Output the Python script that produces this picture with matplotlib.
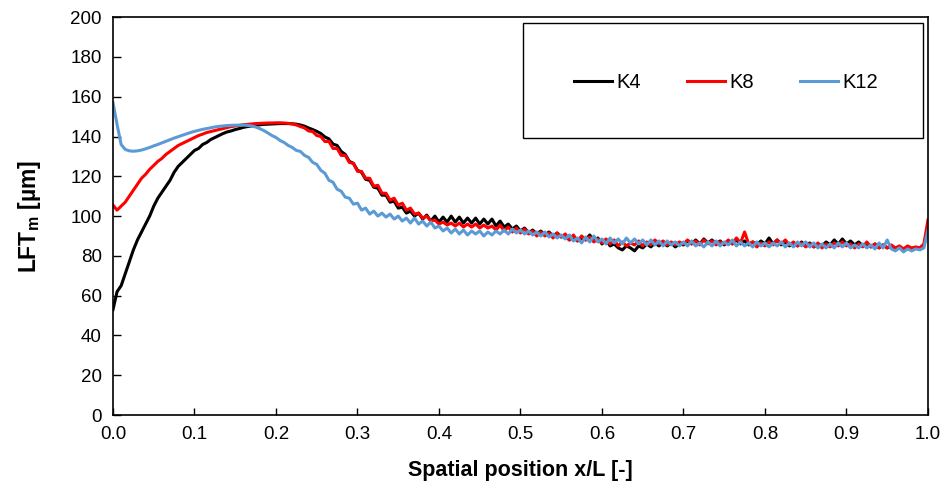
import numpy as np
import matplotlib
matplotlib.use('Agg')
import matplotlib.pyplot as plt
from matplotlib.patches import Rectangle

plt.rcParams['font.family'] = ['Liberation Sans', 'DejaVu Sans']
plt.rcParams['mathtext.fontset'] = 'custom'
plt.rcParams['mathtext.rm'] = 'Liberation Sans'

# Spatial positions x/L (sampled every 0.005)
x_pos = np.linspace(0.0, 1.0, 201)

# LFT_m [um]
k4 = [53, 62, 65, 71, 77, 83, 88, 92, 96, 100,
      105, 109, 112, 115, 118, 122, 125, 127, 129, 131,
      133, 134, 136, 137, 138.5, 139.5, 140.5, 141.5, 142.3, 142.8,
      143.5, 144, 144.6, 145, 145.3, 145.6, 145.9, 146.1, 146.2, 146.3,
      146.4, 146.5, 146.5, 146.5, 146.4, 146.2, 145.8, 145.2, 144.3, 143.5,
      142.6, 141.5, 139.8, 138.8, 136.2, 135.5, 132.5, 131, 127.5, 126.5,
      123, 122, 118.5, 118, 114.5, 114, 110.5, 110.5, 107, 107.5,
      104, 104.5, 101.5, 102.5, 100, 101.5, 98.5, 100.5, 97.5, 100,
      97, 99.5, 97, 100, 97, 99.5, 96.5, 99, 96.5, 99,
      96, 98.5, 96, 98.5, 95, 97.5, 94.5, 96, 93.5, 95,
      92.5, 94, 91.5, 93, 91, 92.5, 90.5, 92, 90, 91.5,
      89.5, 90, 88, 89.5, 87.5, 89, 88, 90.5, 87.5, 89,
      86, 88, 85, 86, 84, 83, 85, 84, 82.5, 85,
      84, 86, 84.5, 86.5, 85, 87, 85, 86.5, 84.5, 86,
      85.5, 87.5, 86, 88, 86, 88.5, 86.5, 88, 86, 87.5,
      85.5, 87.5, 86, 88, 86, 87.5, 85.5, 87, 85.5, 87.5,
      86, 89, 86, 88, 85.5, 87, 85, 86.5, 85, 87,
      85, 86.5, 84.5, 86, 85, 87, 85.5, 88, 86, 88.5,
      86, 87.5, 85.5, 87, 85, 86, 84.5, 86, 84, 85.5,
      84, 85, 83.5, 84.5, 82.5, 84, 83, 84, 83.5, 85,
      94]

k8 = [105.5, 103, 105, 107, 110, 113, 116, 119, 121, 123.5,
      125.5, 127.5, 129, 131, 132.5, 134, 135.5, 136.5, 137.5, 138.5,
      139.5, 140.5, 141.2, 142, 142.5, 143, 143.5, 144, 144.5, 145,
      145.3, 145.6, 145.9, 146.1, 146.3, 146.5, 146.6, 146.7, 146.8, 146.8,
      146.9, 146.9, 146.8, 146.6, 146.3, 145.8, 145, 144.3, 142.8, 142.5,
      140.5, 140, 137.5, 137.5, 134, 134, 130.5, 130.5, 127, 126.5,
      122.5, 122.5, 119, 119, 115, 115.5, 111.5, 111.5, 108, 109,
      105.5, 106.5, 103, 104, 101, 101.5, 99, 100, 97.5, 98,
      96, 97, 95.5, 96.5, 95, 96.5, 94.5, 96, 94.5, 96,
      94, 95.5, 94, 95, 93, 95.5, 92.5, 94.5, 92, 94,
      91.5, 93.5, 91, 92.5, 90, 92, 90, 91.5, 89, 91.5,
      89.5, 91, 88, 90.5, 87.5, 90, 88, 89.5, 87, 88.5,
      86.5, 88.5, 86, 88, 85, 87, 85, 86.5, 85.5, 87.5,
      85, 87, 85.5, 88, 86, 87.5, 85.5, 87, 85.5, 87,
      86, 88, 86, 87.5, 85.5, 88, 86, 87.5, 85.5, 87,
      86, 88, 86, 89, 86.5, 92, 86, 87, 84.5, 86.5,
      85, 87, 85.5, 88, 86, 88, 85.5, 87, 85, 86.5,
      84.5, 86, 84.5, 86.5, 84, 86, 84.5, 86.5, 85, 87,
      85, 86, 84, 86, 84.5, 87, 84.5, 86, 84, 85.5,
      84, 85.5, 84, 85, 83.5, 85, 84, 84.5, 84, 86,
      98]

k12 = [157, 146, 136, 133.5, 132.8, 132.6, 132.8, 133.2, 133.8, 134.5,
       135.3, 136, 136.8, 137.6, 138.4, 139.2, 139.9, 140.6, 141.3, 142,
       142.6, 143.1, 143.6, 144, 144.4, 144.8, 145.1, 145.3, 145.5, 145.6,
       145.7, 145.7, 145.7, 145.6, 145.3, 144.8, 144, 143, 141.8, 140.5,
       139.5, 138, 137, 135.5, 134.5, 133, 132.5, 130.5, 129.5, 127,
       126, 123, 121.5, 118, 117, 113.5, 112.5, 109.5, 109, 106,
       106.5, 103, 104, 101, 102.5, 100, 101.5, 99.5, 101, 98.5,
       100, 97.5, 99, 96.5, 99, 96, 97.5, 95, 97, 94,
       95, 92.5, 94, 91.5, 93.5, 91, 93, 90.5, 92.5, 91,
       92.5, 90, 92, 90.5, 92.5, 91, 93, 91, 93.5, 91.5,
       93, 91, 92.5, 90.5, 92, 90, 92, 89.5, 91, 89,
       90.5, 88.5, 90.5, 87.5, 89, 86.5, 89.5, 87, 90, 87,
       88.5, 86, 89, 86.5, 88.5, 86, 89, 86.5, 88.5, 86,
       88, 85.5, 88, 85.5, 87.5, 85, 87.5, 85.5, 87, 85,
       87, 85, 87.5, 85, 86.5, 84.5, 87, 85, 87.5, 85,
       87, 85.5, 88, 85, 87, 85, 86.5, 84.5, 87, 85,
       86.5, 84.5, 86.5, 85, 87, 84.5, 86.5, 84.5, 87, 85,
       87, 84.5, 86.5, 84, 86, 84, 86, 84, 86.5, 84.5,
       86.5, 84, 85.5, 84, 86, 84, 85.5, 83.5, 86.5, 84,
       88, 83.5, 82.5, 84, 82, 83.5, 82.5, 83.5, 83, 84,
       93]

fig = plt.figure(figsize=(9.44, 4.9), dpi=100)
ax = fig.add_axes([0.1197, 0.153, 0.8633, 0.812])

ax.plot(x_pos, k4, color='black', lw=2.2, label='K4')
ax.plot(x_pos, k8, color='#FF0000', lw=2.2, label='K8')
ax.plot(x_pos, k12, color='#5B9BD5', lw=2.2, label='K12')

ax.set_xlim(0, 1.0)
ax.set_ylim(0, 200)
ax.set_xticks(np.arange(0, 1.01, 0.1))
ax.set_xticklabels(['%.1f' % v for v in np.arange(0, 1.01, 0.1)])
ax.set_yticks(range(0, 201, 20))
ax.tick_params(axis='both', direction='in', labelsize=13.5, width=1, color='black')
ax.tick_params(axis='y', length=6, pad=8)
ax.tick_params(axis='x', length=5, pad=8)
for s in ax.spines.values():
    s.set_linewidth(1.2)

ax.set_xlabel('Spatial position x/L [-]', fontsize=15.5, fontweight='bold', labelpad=12)
ax.set_ylabel(r'LFT$_\mathregular{m}$ [µm]', fontsize=16.5, fontweight='bold', labelpad=20)

# legend box (Excel style, fixed size)
box = Rectangle((0.503, 0.696), 0.491, 0.289, transform=ax.transAxes,
                facecolor='white', edgecolor='black', lw=1.0, zorder=4)
ax.add_patch(box)
leg = ax.legend(loc='center', bbox_to_anchor=(0.752, 0.835), ncol=3, frameon=False,
                fontsize=14.5, handlelength=1.9, handletextpad=0.2, columnspacing=2.3)
leg.set_zorder(5)

plt.savefig('out.png', dpi=100)
